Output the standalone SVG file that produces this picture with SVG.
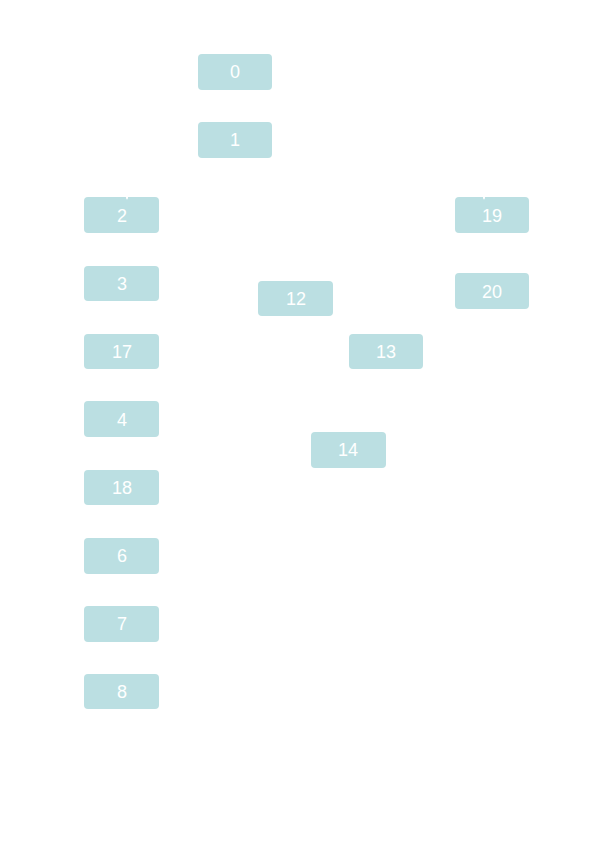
<svg xmlns="http://www.w3.org/2000/svg" width="604" height="866" viewBox="0 0 604 866">
<style>
.n rect{fill:#bbdfe2;}
.n text{fill:#ffffff;font-family:"Liberation Sans",Arial,sans-serif;font-size:18px;text-anchor:middle;dominant-baseline:central;}
.e{stroke:#ffffff;stroke-width:1;fill:none;}
</style>
<defs>
<marker id="ah" markerWidth="8" markerHeight="6" refX="7" refY="3" orient="auto" markerUnits="userSpaceOnUse">
<path d="M0,0 L8,3 L0,6 Z" fill="#ffffff"/>
</marker>
</defs>
<rect width="604" height="866" fill="#ffffff"/>
<g id="n0" class="n"><rect x="198" y="54" width="74" height="36" rx="4"/><text x="235" y="72">0</text></g>
<g id="n1" class="n"><rect x="198" y="122" width="74" height="36" rx="4"/><text x="235" y="140">1</text></g>
<g id="n2" class="n"><rect x="84" y="197" width="75" height="36" rx="4"/><text x="122" y="216">2</text></g>
<g id="n3" class="n"><rect x="84" y="266" width="75" height="35" rx="4"/><text x="122" y="284">3</text></g>
<g id="n17" class="n"><rect x="84" y="334" width="75" height="35" rx="4"/><text x="122" y="352">17</text></g>
<g id="n4" class="n"><rect x="84" y="401" width="75" height="36" rx="4"/><text x="122" y="420">4</text></g>
<g id="n18" class="n"><rect x="84" y="470" width="75" height="35" rx="4"/><text x="122" y="488">18</text></g>
<g id="n6" class="n"><rect x="84" y="538" width="75" height="36" rx="4"/><text x="122" y="556">6</text></g>
<g id="n7" class="n"><rect x="84" y="606" width="75" height="36" rx="4"/><text x="122" y="624">7</text></g>
<g id="n8" class="n"><rect x="84" y="674" width="75" height="35" rx="4"/><text x="122" y="692">8</text></g>
<g id="n19" class="n"><rect x="455" y="197" width="74" height="36" rx="4"/><text x="492" y="216">19</text></g>
<g id="n20" class="n"><rect x="455" y="273" width="74" height="36" rx="4"/><text x="492" y="292">20</text></g>
<g id="n12" class="n"><rect x="258" y="281" width="75" height="35" rx="4"/><text x="296" y="299">12</text></g>
<g id="n13" class="n"><rect x="349" y="334" width="74" height="35" rx="4"/><text x="386" y="352">13</text></g>
<g id="n14" class="n"><rect x="311" y="432" width="75" height="36" rx="4"/><text x="348" y="450">14</text></g>
<g id="connectors">
<path class="e" d="M127,175 L127,199" marker-end="url(#ah)"/>
<path class="e" d="M484,175 L484,199" marker-end="url(#ah)"/>
</g>
</svg>
